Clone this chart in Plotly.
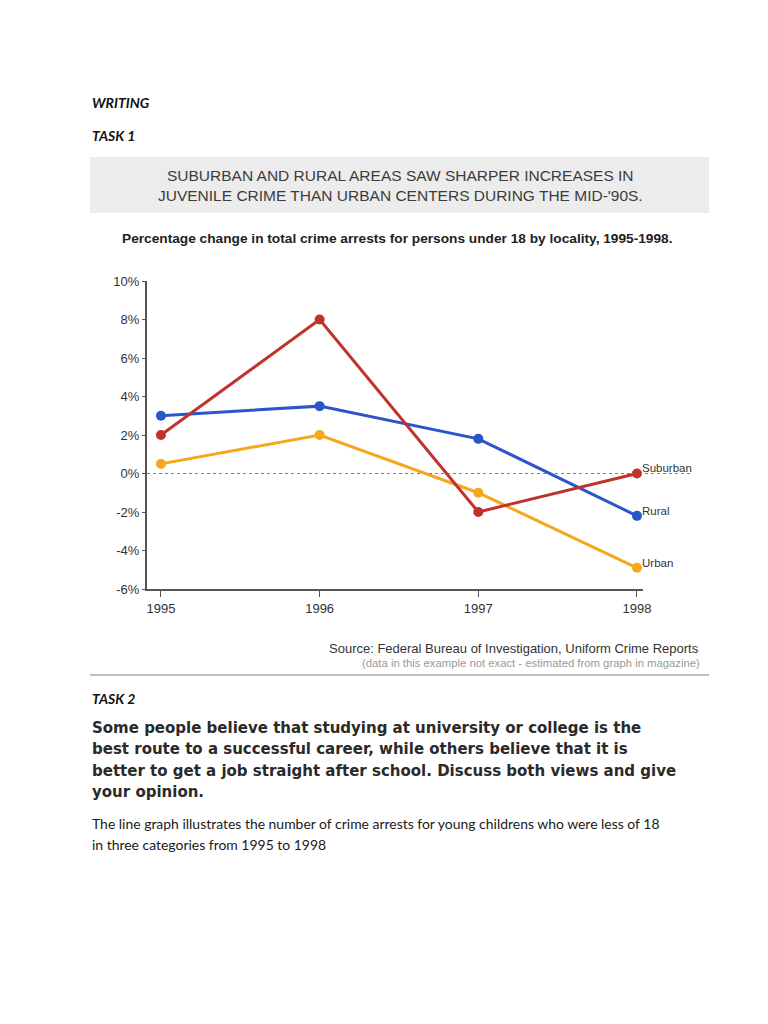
import plotly.graph_objects as go

years = [1995, 1996, 1997, 1998]
suburban = [2.0, 8.0, -2.0, 0.0]
rural = [3.0, 3.5, 1.8, -2.2]
urban = [0.5, 2.0, -1.0, -4.9]
series_names = ["Suburban", "Rural", "Urban"]
y_ticks = [-6, -4, -2, 0, 2, 4, 6, 8, 10]
y_ticklabels = ["-6%", "-4%", "-2%", "0%", "2%", "4%", "6%", "8%", "10%"]
x_ticklabels = ["1995", "1996", "1997", "1998"]

# the page body keeps its default 8px margin, so the figure is drawn 8px in
OFF = 8
W, H = 768 - 2 * OFF, 1024 - 2 * OFF
def px(x):
    return (x - OFF) / W
def py(y):
    return 1 - (y - OFF) / H

colors = {"Suburban": "#c0322a", "Rural": "#2c55c9", "Urban": "#f6a81c"}
data = {"Suburban": suburban, "Rural": rural, "Urban": urban}

fig = go.Figure()
for name in ["Urban", "Rural", "Suburban"]:
    fig.add_trace(go.Scatter(
        x=years, y=data[name], mode="lines+markers", name=name,
        line=dict(color=colors[name], width=3),
        marker=dict(color=colors[name], size=10),
        showlegend=False, hoverinfo="skip"))

annotations = []
for name in series_names:
    annotations.append(dict(x=years[-1], y=data[name][-1], xref="x", yref="y",
                            text=name, showarrow=False, xanchor="left", yanchor="middle",
                            xshift=3, yshift=5,
                            font=dict(family="Liberation Sans, Arial", size=11.5, color="#333333")))

def txt(x, y, text, size, family, color="#222222", xanchor="left", bold=False, italic=False):
    if bold:
        text = "<b>" + text + "</b>"
    if italic:
        text = "<i>" + text + "</i>"
    annotations.append(dict(x=px(x), y=py(y), xref="paper", yref="paper", text=text,
                            showarrow=False, xanchor=xanchor, yanchor="middle",
                            font=dict(family=family, size=size, color=color)))

LATO = "Lato, Liberation Sans, sans-serif"
ARIAL = "Liberation Sans, Arial, sans-serif"
txt(90, 102, "WRITING", 14, LATO, "#111111", bold=True, italic=True)
txt(90, 135, "TASK 1", 14, LATO, "#111111", bold=True, italic=True)
txt(400, 176, "SUBURBAN AND RURAL AREAS SAW SHARPER INCREASES IN", 15.5, ARIAL, "#3c3c3c", xanchor="center")
txt(400, 195, "JUVENILE CRIME THAN URBAN CENTERS DURING THE MID-'90S.", 15.5, ARIAL, "#3c3c3c", xanchor="center")
txt(397, 239, "Percentage change in total crime arrests for persons under 18 by locality, 1995-1998.", 13.7, ARIAL, "#222222", xanchor="center", bold=True)
txt(701, 648, "Source: Federal Bureau of Investigation, Uniform Crime Reports", 13, ARIAL, "#333333", xanchor="right")
txt(702, 663, "(data in this example not exact - estimated from graph in magazine)", 11.3, ARIAL, "#9a9a9a", xanchor="right")
txt(90, 698, "TASK 2", 14, LATO, "#111111", bold=True, italic=True)
BOLD = "DejaVu Sans, Verdana, sans-serif"
task2 = ["Some people believe that studying at university or college is the",
         "best route to a successful career, while others believe that it is",
         "better to get a job straight after school. Discuss both views and give",
         "your opinion."]
for i, line in enumerate(task2):
    txt(90, 728 + i * 21.3, line, 15.0, BOLD, "#2a2a2a", bold=True)
body = ["The line graph illustrates the number of crime arrests for young childrens who were less of 18",
        "in three categories from 1995 to 1998"]
for i, line in enumerate(body):
    txt(90, 823 + i * 21, line, 13.95, LATO, "#1a1a1a")

shapes = [
    dict(type="rect", xref="paper", yref="paper", x0=px(90), x1=px(709), y0=py(157), y1=py(213),
         fillcolor="#ececec", line=dict(width=0), layer="below"),
    dict(type="line", xref="paper", yref="paper", x0=px(90), x1=px(709), y0=py(675), y1=py(675),
         line=dict(color="#bdbdbd", width=2)),
    dict(type="line", xref="x domain", yref="y", x0=0, x1=(693 - 147) / (643 - 147),
         y0=0, y1=0, line=dict(color="#808080", width=1, dash="dot"), layer="below"),
]

fig.update_layout(
    width=W, height=H, margin=dict(l=0, r=0, t=0, b=0),
    paper_bgcolor="white", plot_bgcolor="white",
    annotations=annotations, shapes=shapes,
    xaxis=dict(domain=[px(147), px(643)], range=[1994.912, 1998.038], tickvals=years, ticktext=x_ticklabels,
               showline=True, linecolor="#555555", linewidth=2, ticks="outside", ticklen=6, tickcolor="#555555",
               showgrid=False, zeroline=False, automargin=False,
               tickfont=dict(family=ARIAL, size=13, color="#333333")),
    yaxis=dict(domain=[py(589), py(281)], range=[-6, 10], tickvals=y_ticks, ticktext=y_ticklabels,
               showline=True, linecolor="#555555", linewidth=2, ticks="outside", ticklen=3, tickcolor="#555555",
               showgrid=False, zeroline=False, automargin=False,
               tickfont=dict(family=ARIAL, size=13, color="#333333")),
)

fig.write_html("out.html", config={"displayModeBar": False})
